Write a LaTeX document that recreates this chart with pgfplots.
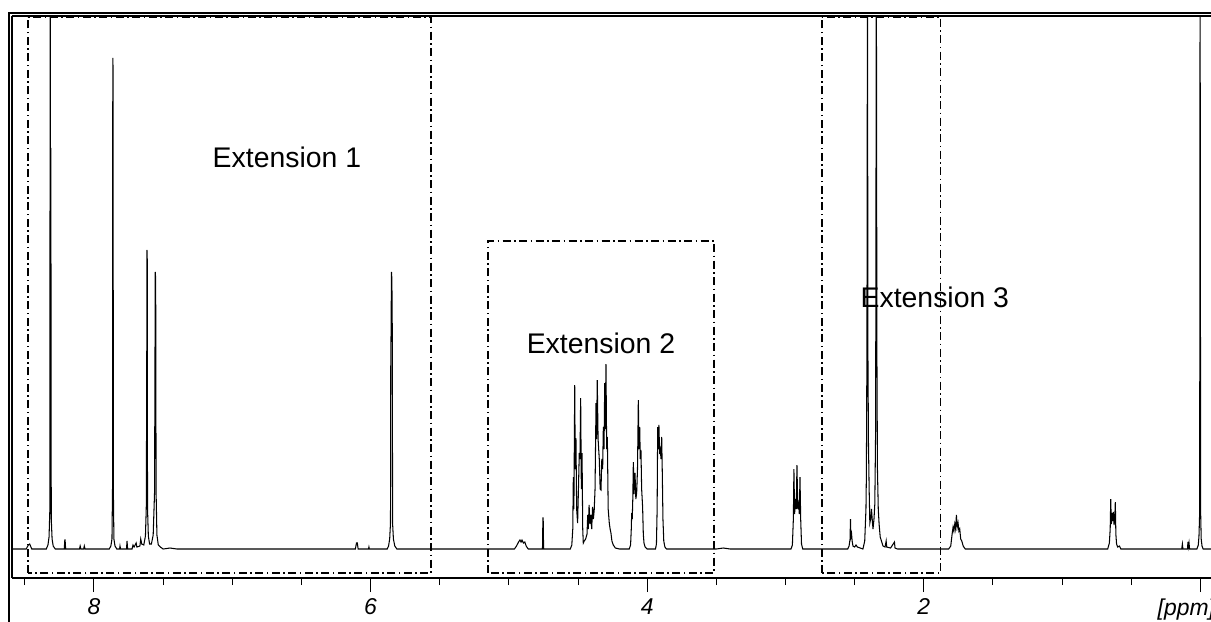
\documentclass[border=0pt]{standalone}
\usepackage{pgfplots}
\pgfplotsset{compat=1.18}
\usepackage{fontspec}
\setmainfont{Liberation Sans}
\begin{document}
\begin{tikzpicture}
\begin{axis}[
  name=ax,
  scale only axis,
  width=1202.2bp, height=562bp,
  x dir=reverse,
  xmin=-0.1, xmax=8.593,
  ymin=-29, ymax=533,
  axis x line*=bottom,
  axis y line*=left,
  ytick=\empty,
  xtick={2,4,6,8},
  minor xtick={0,0.5,...,8.5},
  tick align=outside,
  major tick length=14bp,
  minor tick length=7bp,
  every tick/.style={black, line width=1bp},
  axis line style={line width=1.2bp},
  /pgf/number format/assume math mode=true,
  xticklabel style={font=\fontsize{23}{25}\selectfont\itshape, yshift=-3bp},
  extra x ticks={0},
  extra x tick labels={[ppm]},
  extra x tick style={grid=none, xticklabel style={xshift=-14bp}},
  clip=true,
]
\addplot[black, line width=1.05bp] coordinates {
(8.7,0)
(8.49,0)(8.475,4)(8.465,5)(8.45,0)
(8.345,0)(8.333,4)(8.325,12)(8.319,40)(8.317,600)(8.314,300)(8.312,401)(8.309,30)(8.303,10)(8.295,3)(8.28,0)
(8.215,0)(8.211,9)(8.209,9)(8.205,0)
(8.105,0)(8.10,3)(8.095,0)(8.075,0)(8.07,3)(8.065,0)
(7.89,0)(7.878,3)(7.870,10)(7.866,60)(7.864,491)(7.862,480)(7.860,60)(7.856,10)(7.848,3)(7.835,0)
(7.815,0)(7.812,3)(7.808,0)(7.765,0)(7.761,8)(7.757,0)(7.725,0)(7.718,4)(7.71,2)(7.695,6)(7.69,2)(7.668,3)(7.662,10)(7.655,5)
(7.640,4)(7.628,13)(7.622,41)(7.619,150)(7.617,299)(7.615,290)(7.613,41)(7.607,13)(7.598,5)
(7.585,5)(7.572,14)(7.562,57)(7.557,277)(7.554,270)(7.551,57)(7.545,14)(7.535,4)(7.52,2)(7.50,0)
(7.45,1)(7.40,0)
(6.11,0)(6.102,6)(6.096,6)(6.09,0)
(6.015,0)(6.012,2)(6.009,0)
(5.88,0)(5.87,3)(5.862,10)(5.856,26)(5.854,186)(5.852,216)(5.849,277)(5.846,270)(5.843,216)(5.841,26)(5.835,10)(5.825,3)(5.81,0)
(4.96,0)(4.945,3)(4.93,7)(4.92,9)(4.912,7)(4.905,9)(4.895,6)(4.885,7)(4.875,3)(4.86,0)
(4.757,0)(4.754,31)(4.752,31)(4.749,0)
(4.556,0)(4.545,4)(4.538,20)(4.534,72)(4.530,40)(4.527,100)(4.524,164)(4.520,80)(4.515,111)(4.510,40)(4.503,26)(4.497,60)(4.491,96)(4.486,90)(4.481,151)(4.476,60)(4.471,96)(4.466,20)(4.462,6)
(4.455,8)(4.445,10)(4.435,15)(4.430,34)(4.426,20)(4.420,44)(4.414,25)(4.408,34)(4.401,20)(4.395,42)(4.389,30)(4.383,39)(4.377,60)
(4.372,120)(4.370,146)(4.366,110)(4.361,169)(4.355,110)(4.346,89)(4.340,60)(4.334,59)(4.328,90)(4.322,80)(4.317,122)(4.312,100)(4.307,166)(4.303,120)(4.298,185)(4.293,100)(4.288,112)(4.282,40)(4.274,26)(4.268,20)(4.262,16)(4.255,8)(4.245,4)(4.23,1)(4.20,0)
(4.13,0)(4.12,4)(4.115,20)(4.112,36)(4.108,30)(4.104,50)(4.100,87)(4.095,55)(4.088,76)(4.082,50)(4.076,56)(4.070,80)(4.064,149)(4.059,100)(4.054,122)(4.050,90)(4.045,99)(4.040,60)(4.033,42)(4.028,15)(4.023,6)(4.015,2)(4.0,0)
(3.94,0)(3.933,5)(3.928,40)(3.924,122)(3.920,100)(3.915,124)(3.910,95)(3.905,99)(3.900,90)(3.895,112)(3.890,70)(3.886,30)(3.880,8)(3.872,2)(3.86,0)
(3.5,0)(3.45,1)(3.40,0)
(2.96,0)(2.95,4)(2.943,30)(2.939,80)(2.934,35)(2.928,50)(2.922,40)(2.917,84)(2.911,40)(2.905,45)(2.900,35)(2.895,72)(2.890,30)(2.884,5)(2.875,0)
(2.55,0)(2.54,3)(2.533,10)(2.530,30)(2.527,12)(2.522,15)(2.518,8)(2.512,3)(2.50,2)(2.49,4)(2.48,2)
(2.44,0)(2.427,8)(2.418,40)(2.415,74)(2.411,200)(2.407,600)(2.404,200)(2.400,107)(2.395,60)(2.390,26)(2.384,30)(2.378,40)(2.372,28)(2.367,20)(2.360,30)(2.354,45)(2.348,120)(2.343,600)(2.339,200)(2.335,80)(2.329,40)(2.323,25)(2.315,12)(2.306,8)(2.295,3)(2.28,2)(2.272,8)(2.268,2)(2.24,1)(2.212,7)(2.208,1)(2.19,0)
(1.82,0)(1.805,3)(1.795,15)(1.788,22)(1.782,18)(1.776,25)(1.770,20)(1.764,34)(1.758,22)(1.752,26)(1.746,18)(1.740,20)(1.733,10)(1.725,8)(1.715,3)(1.70,0)
(0.67,0)(0.658,6)(0.652,20)(0.648,50)(0.644,25)(0.640,30)(0.636,36)(0.632,28)(0.629,37)(0.624,24)(0.619,30)(0.615,47)(0.611,15)(0.606,5)(0.598,2)(0.585,3)(0.575,0)
(0.135,0)(0.130,5)(0.126,0)(0.093,0)(0.090,7)(0.086,2)(0.082,6)(0.078,0)
(0.025,0)(0.015,4)(0.010,13)(0.005,37)(0.002,600)(-0.002,37)(-0.006,10)(-0.012,3)(-0.02,0)(-0.2,0)
};
\draw[line width=1.4bp, dash pattern=on 8bp off 3.5bp on 1.5bp off 3.5bp] (axis cs:8.477,-24) rectangle (axis cs:5.563,532);
\draw[line width=1.4bp, dash pattern=on 8bp off 3.5bp on 1.5bp off 3.5bp] (axis cs:5.15,-24) rectangle (axis cs:3.516,308);
\draw[line width=1.4bp, dash pattern=on 8bp off 3.5bp on 1.5bp off 3.5bp] (axis cs:2.737,-24) rectangle (axis cs:1.877,532);
\node[font=\fontsize{28.5}{32}\selectfont] at (axis cs:6.605,392) {Extension 1};
\node[font=\fontsize{28.5}{32}\selectfont] at (axis cs:4.334,206) {Extension 2};
\node[font=\fontsize{28.5}{32}\selectfont] at (axis cs:1.920,252) {Extension 3};
\end{axis}
\draw[line width=1.2bp] (ax.north west) -- ([xshift=10bp]ax.north east);
\draw[line width=1.2bp] ([shift={(-3bp,-60bp)}]ax.south west) -- ([shift={(-3bp,3bp)}]ax.north west) -- ([shift={(10bp,3bp)}]ax.north east);
\pgfresetboundingbox
\path[use as bounding box] ([shift={(-12bp,-43bp)}]ax.south west) rectangle ([shift={(-3.2bp,16bp)}]ax.north east);
\end{tikzpicture}
\end{document}
